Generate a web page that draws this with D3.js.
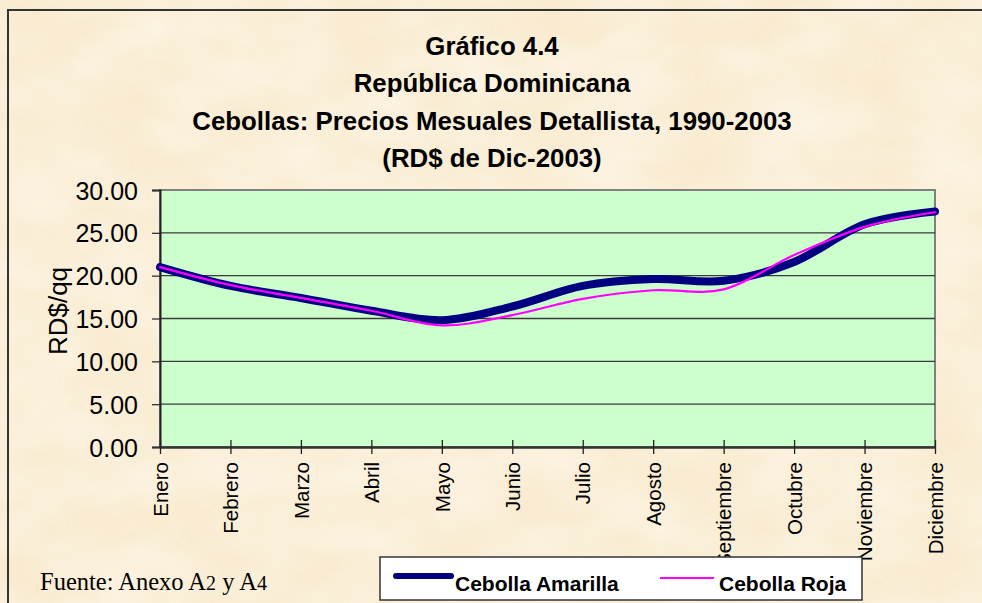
<!DOCTYPE html>
<html>
<head>
<meta charset="utf-8">
<script src="https://cdn.jsdelivr.net/npm/d3@7"></script>
<style>
  body { margin: 0; background: #f8eacd; }
  svg { display: block; }
</style>
</head>
<body>
<script>
// datos
var meses = ["Enero", "Febrero", "Marzo", "Abril", "Mayo", "Junio", "Julio",
  "Agosto", "Septiembre", "Octubre", "Noviembre", "Diciembre"];
var amarilla = [21.0, 18.8, 17.4, 15.9, 14.8, 16.4, 18.8, 19.6, 19.4, 21.6, 26.0, 27.5];
var roja = [21.0, 18.9, 17.4, 15.9, 14.2, 15.4, 17.3, 18.3, 18.4, 22.4, 25.7, 27.4];
var yTicks = [0, 5, 10, 15, 20, 25, 30];
var titulo = ["Gráfico 4.4", "República Dominicana",
  "Cebollas: Precios Mesuales Detallista, 1990-2003", "(RD$ de Dic-2003)"];

var width = 982, height = 603;
var margin = {top: 190, right: 47, bottom: 156, left: 160};
var sans = "Liberation Sans, Arial, sans-serif";

var svg = d3.select("body").append("svg")
    .attr("width", width).attr("height", height);

// fondo tipo pergamino
var defs = svg.append("defs");
var f = defs.append("filter").attr("id", "papel")
    .attr("x", 0).attr("y", 0).attr("width", "100%").attr("height", "100%");
f.append("feTurbulence").attr("type", "fractalNoise")
    .attr("baseFrequency", "0.012 0.02").attr("numOctaves", 3).attr("seed", 4);
f.append("feColorMatrix").attr("type", "matrix")
    .attr("values", "0 0 0 0 1  0 0 0 0 0.98  0 0 0 0 0.93  0 0 0 0.9 -0.2");

svg.append("rect").attr("width", width).attr("height", height).attr("fill", "#f9ebd0");
svg.append("rect").attr("width", width).attr("height", height)
    .attr("filter", "url(#papel)").attr("opacity", 0.8);

svg.append("rect")
    .attr("x", 8).attr("y", 10).attr("width", 1000).attr("height", 700)
    .attr("fill", "none").attr("stroke", "#333").attr("stroke-width", 2);

// titulo
svg.append("g").selectAll("text")
  .data(titulo)
  .enter().append("text")
    .attr("x", 492)
    .attr("y", function(d, i) { return 55 + i * 37.3; })
    .attr("text-anchor", "middle")
    .attr("font-family", sans)
    .attr("font-weight", "bold")
    .attr("font-size", "25.8px")
    .attr("fill", "#000")
    .text(function(d) { return d; });

var x = d3.scalePoint().domain(meses)
    .range([margin.left, width - margin.right]);
var y = d3.scaleLinear().domain([0, 30])
    .range([height - margin.bottom, margin.top]);

// area del grafico
svg.append("rect")
    .attr("x", margin.left).attr("y", margin.top)
    .attr("width", x.range()[1] - margin.left)
    .attr("height", y(0) - margin.top)
    .attr("fill", "#ccffcc")
    .attr("stroke", "#808080").attr("stroke-width", 2);

// lineas de cuadricula
svg.append("g").selectAll("line")
  .data(yTicks.slice(1, -1))
  .enter().append("line")
    .attr("x1", margin.left).attr("x2", x.range()[1])
    .attr("y1", function(d) { return y(d); })
    .attr("y2", function(d) { return y(d); })
    .attr("stroke", "#3a3a3a").attr("stroke-width", 1.3);

// eje y
var yAxis = svg.append("g")
    .attr("transform", "translate(" + margin.left + ",0)")
    .call(d3.axisLeft(y).tickValues(yTicks).tickSize(8).tickPadding(14)
      .tickFormat(d3.format(".2f")));
yAxis.select(".domain").attr("stroke", "#222").attr("stroke-width", 2);
yAxis.selectAll(".tick line").attr("stroke", "#333").attr("stroke-width", 1.3);
yAxis.selectAll("text")
    .attr("font-family", sans)
    .attr("font-size", "25px").attr("fill", "#000").attr("dy", "0.36em");

svg.append("text")
    .attr("transform", "translate(67,311) rotate(-90)")
    .attr("text-anchor", "middle")
    .attr("font-family", sans)
    .attr("font-size", "26px")
    .text("RD$/qq");

// eje x
var xAxis = svg.append("g")
    .attr("transform", "translate(0," + y(0) + ")")
    .call(d3.axisBottom(x).tickSizeInner(7).tickSizeOuter(0));
xAxis.select(".domain").attr("stroke", "#333").attr("stroke-width", 2.5);
xAxis.selectAll(".tick line").attr("y1", -7).attr("stroke", "#222").attr("stroke-width", 1.3);
xAxis.selectAll("text")
    .attr("font-family", sans)
    .attr("font-size", "20.5px").attr("fill", "#000")
    .attr("text-anchor", "end")
    .attr("transform", "rotate(-90)")
    .attr("x", -15).attr("y", 0).attr("dy", "0.35em");

// series
var line = d3.line()
    .x(function(d, i) { return x(meses[i]); })
    .y(function(d) { return y(d); })
    .curve(d3.curveCardinal.tension(0));

svg.append("path").datum(amarilla)
    .attr("d", line)
    .attr("fill", "none").attr("stroke", "#000080")
    .attr("stroke-width", 8).attr("stroke-linecap", "round").attr("stroke-linejoin", "round");

svg.append("path").datum(roja)
    .attr("d", line)
    .attr("fill", "none").attr("stroke", "#ff00ff")
    .attr("stroke-width", 2.2).attr("stroke-linecap", "round");

// fuente
var fuente = svg.append("text")
    .attr("x", 40).attr("y", 590)
    .attr("font-family", "Liberation Serif, Times New Roman, serif")
    .attr("font-size", "24.5px");
fuente.append("tspan").text("Fuente: Anexo A");
fuente.append("tspan").attr("font-size", "20px").text("2");
fuente.append("tspan").text(" y A");
fuente.append("tspan").attr("font-size", "20px").text("4");

// leyenda
var leg = svg.append("g");
leg.append("rect")
    .attr("x", 380).attr("y", 557).attr("width", 482).attr("height", 43)
    .attr("fill", "#fff").attr("stroke", "#333").attr("stroke-width", 1.5);
leg.append("line")
    .attr("x1", 396).attr("x2", 451).attr("y1", 576).attr("y2", 576)
    .attr("stroke", "#000080").attr("stroke-width", 6).attr("stroke-linecap", "round");
leg.append("text")
    .attr("x", 455).attr("y", 591)
    .attr("font-family", sans)
    .attr("font-weight", "bold").attr("font-size", "21px")
    .text("Cebolla Amarilla");
leg.append("line")
    .attr("x1", 660).attr("x2", 714).attr("y1", 578).attr("y2", 578)
    .attr("stroke", "#ff00ff").attr("stroke-width", 2);
leg.append("text")
    .attr("x", 719).attr("y", 591)
    .attr("font-family", sans)
    .attr("font-weight", "bold").attr("font-size", "21px")
    .text("Cebolla Roja");
</script>
</body>
</html>
